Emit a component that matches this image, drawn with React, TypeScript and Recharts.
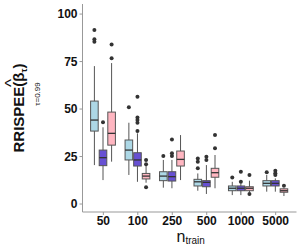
import React from 'react';
import { ComposedChart, Bar, XAxis, YAxis } from 'recharts';

const categories = ['50', '100', '250', '500', '1000', '5000'];

// each row: [lower whisker, Q1, median, Q3, upper whisker]
const blueStats = [
  [20.5, 38.4, 44.2, 54.2, 72.6],
  [15.3, 23.2, 28.4, 33.7, 42.8],
  [8.6, 12.3, 14.7, 17.0, 23.2],
  [7.0, 9.5, 11.7, 13.0, 16.1],
  [4.7, 7.0, 8.3, 9.5, 11.7],
  [6.5, 9.5, 10.9, 12.3, 15.3],
];
const blueOutliers = [[91.6, 86.7, 85.4], [50.9], [25.3], [24.0, 22.3, 18.8], [14.0], [16.7]];

const purpleStats = [
  [12.6, 20.2, 24.4, 28.4, 40.4],
  [11.7, 20.0, 23.2, 27.0, 37.2],
  [8.3, 12.1, 14.4, 17.0, 23.2],
  [5.3, 9.1, 11.4, 12.3, 20.5],
  [4.7, 7.0, 8.3, 9.5, 10.9],
  [6.5, 9.5, 10.9, 12.3, 13.5],
];
const purpleOutliers = [[43.0], [56.5, 45.6, 44.2, 42.8, 38.4], [34.0, 26.7, 25.3], [24.9, 23.2], [17.0, 11.7], [17.5, 16.2, 15.3]];

const pinkStats = [
  [22.3, 31.0, 37.2, 48.4, 74.2],
  [11.2, 13.2, 14.7, 16.1, 20.5],
  [12.6, 20.0, 23.5, 27.9, 36.3],
  [8.3, 14.1, 16.5, 18.8, 25.8],
  [6.3, 7.0, 8.3, 9.1, 12.3],
  [4.2, 6.2, 7.0, 8.0, 8.3],
];
const pinkOutliers = [[84.0, 76.7], [23.2, 21.0, 8.8], [], [36.3, 29.3], [15.3, 5.3], [9.6]];

const yTicks = [0, 25, 50, 75, 100];

const FONT = '"Liberation Sans", Arial, Helvetica, sans-serif';

const data = categories.map((cat, i) => ({
  cat,
  i,
  blue: [blueStats[i][0], blueStats[i][4]],
  purple: [purpleStats[i][0], purpleStats[i][4]],
  pink: [pinkStats[i][0], pinkStats[i][4]],
}));

// the bar spans the whiskers; the rest is placed on the same linear scale
const makeBox = (stats: number[][], outliers: number[][], fill: string) => (props: any) => {
  const { x, y, width, height } = props;
  const i = props.payload?.i ?? props.index;
  const [lo, q1, med, q3, hi] = stats[i];
  const top = Math.min(y, y + height);
  const h = Math.abs(height);
  const toY = (v: number) => top + ((hi - v) * h) / (hi - lo);
  const cx = x + width / 2;
  return (
    <g>
      <line x1={cx} x2={cx} y1={toY(hi)} y2={toY(lo)} stroke="#555" strokeWidth={1} />
      <rect
        x={x + 0.5}
        y={toY(q3)}
        width={width - 1}
        height={toY(q1) - toY(q3)}
        fill={fill}
        stroke="#555"
        strokeWidth={1}
      />
      <line x1={x + 0.5} x2={x + width - 0.5} y1={toY(med)} y2={toY(med)} stroke="#333" strokeWidth={1.3} />
      {outliers[i].map((v, k) => (
        <circle key={k} cx={cx} cy={toY(v)} r={2} fill="#333" />
      ))}
    </g>
  );
};

export default function App() {
  return (
    <div style={{ position: 'absolute', left: 0, top: 0, width: 301, height: 251, background: '#fff' }}>
      <ComposedChart
        width={301}
        height={251}
        data={data}
        margin={{ top: 4, right: 4.5, bottom: 0, left: 0 }}
        barSize={8.6}
        barGap={0}
      >
        <XAxis
          dataKey="cat"
          padding={{ left: 3.6, right: 3.6 }}
          height={39}
          tickSize={3}
          tickMargin={1}
          stroke="#999"
          tick={{ fontSize: 12, fontWeight: 'bold', fill: '#111', fontFamily: FONT }}
        />
        <XAxis xAxisId="top" dataKey="cat" orientation="top" height={0} tick={false} tickLine={false} stroke="#999" />
        <YAxis
          type="number"
          domain={[-4.2, 105.3]}
          ticks={yTicks}
          allowDataOverflow
          width={82.5}
          tickSize={3}
          tickMargin={2}
          stroke="#999"
          tick={{ fontSize: 12, fontWeight: 'bold', fill: '#111', fontFamily: FONT }}
        />
        <YAxis
          yAxisId="right"
          orientation="right"
          type="number"
          domain={[0, 1]}
          width={0}
          tick={false}
          tickLine={false}
          stroke="#222"
        />
        <Bar dataKey="blue" isAnimationActive={false} shape={makeBox(blueStats, blueOutliers, '#ADD8E6')} />
        <Bar dataKey="purple" isAnimationActive={false} shape={makeBox(purpleStats, purpleOutliers, '#6750D3')} />
        <Bar dataKey="pink" isAnimationActive={false} shape={makeBox(pinkStats, pinkOutliers, '#FFB6C1')} />
      </ComposedChart>
      <svg width={301} height={251} style={{ position: 'absolute', left: 0, top: 0, pointerEvents: 'none' }}>
        <text
          transform="translate(23.5,108) rotate(-90)"
          textAnchor="middle"
          fontSize={15}
          fontWeight="bold"
          fontFamily={FONT}
          fill="#111"
        >
          RRISPEE(β
          <tspan fontSize={9} dy={3}>τ</tspan>
          <tspan dy={-3}>)</tspan>
        </text>
        <text
          transform="translate(16.5,83) rotate(-90)"
          textAnchor="middle"
          fontSize={17}
          fontFamily={FONT}
          fill="#111"
        >
          ^
        </text>
        <text
          transform="translate(40,94) rotate(-90)"
          textAnchor="middle"
          fontSize={8}
          fontFamily={FONT}
          fill="#111"
        >
          τ=0.99
        </text>
        <text x={176.5} y={241.5} fontSize={16} fontFamily={FONT} fill="#111">
          n
          <tspan fontSize={10} dy={2.5}>train</tspan>
        </text>
      </svg>
    </div>
  );
}
